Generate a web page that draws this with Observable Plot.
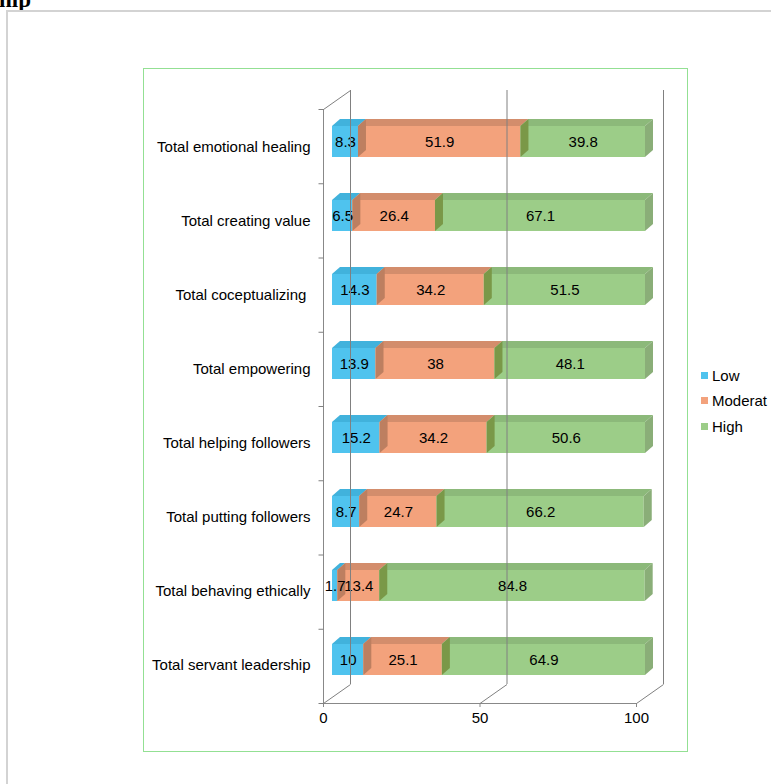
<!DOCTYPE html>
<html><head><meta charset="utf-8">
<script src="https://cdn.jsdelivr.net/npm/d3@7"></script>
<script src="https://cdn.jsdelivr.net/npm/@observablehq/plot@0.6"></script>
<style>
body{margin:0;background:#fff;font-family:"Liberation Sans",Arial,sans-serif;}
#wrap{position:relative;width:771px;height:784px;overflow:hidden;background:#fff;}
#wrap svg{position:absolute;left:0;top:0;font-size:15px;}
#wrap svg text{fill:#000;}
.frame-gray{position:absolute;left:6px;top:10px;width:800px;height:800px;border-top:2px solid #d3d3d3;border-left:2px solid #d3d3d3;box-sizing:border-box;}
.frame-green{position:absolute;left:143px;top:68px;width:545px;height:684px;border:1.5px solid #93e093;box-sizing:border-box;}
.hip{position:absolute;left:-1px;top:-12px;font:bold 23px/23px "Liberation Serif","Times New Roman",serif;color:#000;}
.leg{position:absolute;left:701px;height:25px;line-height:25px;display:flex;align-items:center;font-size:15px;color:#000;white-space:nowrap;}
.leg span.sw{display:inline-block;width:7px;height:7px;margin-right:4px;}
</style></head><body><div id="wrap"></div>
<script>
const categories = ["Total emotional healing","Total creating value","Total coceptualizing\u00A0","Total empowering","Total helping followers","Total putting followers","Total behaving ethically","Total servant leadership"];
const levels = ["Low","Moderat","High"];
const low = [8.3, 6.5, 14.3, 13.9, 15.2, 8.7, 1.7, 10];
const moderate = [51.9, 26.4, 34.2, 38, 34.2, 24.7, 13.4, 25.1];
const high = [39.8, 67.1, 51.5, 48.1, 50.6, 66.2, 84.8, 64.9];
const xTicks = [0, 50, 100];
const frontColors = ["#4fc3ee", "#f3a27c", "#9ccd88"];
const topColors = ["#41b2dc", "#d38d6c", "#8cb97a"];
const sideColors = ["#3aa3cb", "#bd7f60", "#7a9848"];
const endColor = "#8aae78";

const series = [low, moderate, high];
const data = categories.flatMap((c, i) => levels.map((l, j) => ({category: c, level: l, value: series[j][i]})));

const wrap = document.getElementById("wrap");

const plot = Plot.plot({
  width: 771, height: 784,
  marginLeft: 323, marginRight: 135, marginTop: 109, marginBottom: 81,
  style: {fontFamily: "Liberation Sans, Arial, sans-serif", fontSize: "15px", background: "transparent", color: "#888"},
  x: {domain: [0, 100], ticks: xTicks, tickSize: 4, tickPadding: 5, line: true, label: null, tickFormat: d => String(d)},
  y: {domain: categories, padding: 0, tickSize: 0, tickPadding: 13, line: true, label: null},
  color: {domain: levels, range: frontColors},
  marks: [
    Plot.barX(data, Plot.stackX({x: "value", y: "category", fill: "level", insetTop: 16, insetBottom: 27, dx: 9})),
    Plot.text(data, Plot.stackX({x: "value", y: "category", z: "level", text: d => String(d.value), dx: 9, dy: -5, fill: "#000", fontSize: 15})),
    Plot.ruleX(xTicks, {dx: 27, dy: -19, stroke: "#808080"})
  ]
});
wrap.appendChild(plot);

const svgNode = plot.tagName.toLowerCase() === "svg" ? plot : plot.querySelector("svg");
const svg = d3.select(svgNode);
const hexOf = c => { const k = d3.color(c); return k ? k.formatHex().toLowerCase() : ""; };
const frontHex = frontColors.map(hexOf);
const bd = {x: 8, y: -7};
const pts = a => a.map(p => p.map(v => v.toFixed(2)).join(",")).join(" ");
const rects = Array.from(svgNode.querySelectorAll("rect"));
rects.forEach(r => {
  let fill = r.getAttribute("fill") || getComputedStyle(r).fill;
  const j = frontHex.indexOf(hexOf(fill));
  if (j < 0) return;
  const b = r.getBBox();
  const x = b.x, y = b.y, w = b.width, h = b.height;
  const parent = d3.select(r.parentNode);
  parent.append("polygon").attr("fill", topColors[j])
    .attr("points", pts([[x, y], [x + w, y], [x + w + bd.x, y + bd.y], [x + bd.x, y + bd.y]]));
  if (j > 0) parent.append("polygon").attr("fill", sideColors[j])
    .attr("points", pts([[x, y], [x + bd.x, y + bd.y], [x + bd.x, y + h + bd.y], [x, y + h]]));
  if (j === levels.length - 1) parent.append("polygon").attr("fill", endColor)
    .attr("points", pts([[x + w, y], [x + w + bd.x, y + bd.y], [x + w + bd.x, y + h + bd.y], [x + w, y + h]]));
});

// depth lines of the 3D walls, drawn from the plot's scales
const X = plot.scale("x"), Y = plot.scale("y");
const yTop = Math.min(...Y.range), yBot = Math.max(...Y.range);
const step = (yBot - yTop) / categories.length;
const walls = svg.append("g").attr("stroke", "#808080").attr("fill", "none").attr("transform", "translate(0.5,0.5)");
xTicks.forEach(t => {
  const px = X.apply(t);
  walls.append("line").attr("x1", px).attr("y1", yBot).attr("x2", px + 27).attr("y2", yBot - 19);
});
const x0 = X.apply(0);
walls.append("line").attr("x1", x0).attr("y1", yTop).attr("x2", x0 + 27).attr("y2", yTop - 19);
for (let k = 0; k <= categories.length; k++) {
  const yy = yTop + k * step;
  walls.append("line").attr("x1", x0 - 5).attr("y1", yy).attr("x2", x0).attr("y2", yy);
}

// legend
levels.forEach((l, k) => {
  const row = document.createElement("div");
  row.className = "leg";
  row.style.top = (362.5 + 25.5 * k) + "px";
  const sw = document.createElement("span");
  sw.className = "sw"; sw.style.background = frontColors[k];
  row.appendChild(sw);
  row.appendChild(document.createTextNode(l));
  wrap.appendChild(row);
});

const hip = document.createElement("div");
hip.className = "hip"; hip.textContent = "hip";
wrap.appendChild(hip);
const fg = document.createElement("div"); fg.className = "frame-gray"; wrap.appendChild(fg);
const fgr = document.createElement("div"); fgr.className = "frame-green"; wrap.appendChild(fgr);
</script>
</body></html>
